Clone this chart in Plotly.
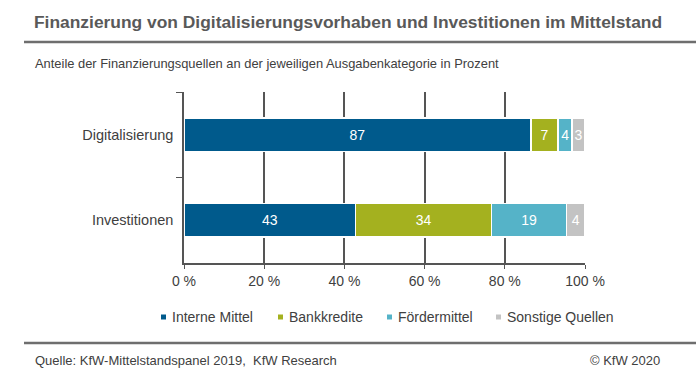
import plotly.graph_objects as go

categories = ["Digitalisierung", "Investitionen"]
series_names = ["Interne Mittel", "Bankkredite", "Fördermittel", "Sonstige Quellen"]
# shares (percent)
interne = [86.5, 42.8]
bank = [6.8, 33.9]
foerder = [3.5, 18.7]
sonstige = [3.2, 4.6]
# printed value labels
interne_lbl = [87, 43]
bank_lbl = [7, 34]
foerder_lbl = [4, 19]
sonstige_lbl = [3, 4]
x_ticks = [0, 20, 40, 60, 80, 100]

colors = ["#005A8C", "#A4B11F", "#55B3C8", "#C3C3C3"]
values = [interne, bank, foerder, sonstige]
labels = [interne_lbl, bank_lbl, foerder_lbl, sonstige_lbl]

FONT = "Liberation Sans, Arial, sans-serif"
W, H = 696, 392
L, R, T, B = 184, 585, 92, 263

def px(x):
    return (x - L) / (R - L)

def py(y):
    return (B - y) / (B - T)

fig = go.Figure()
for name, vals, lbl, col in zip(series_names, values, labels, colors):
    fig.add_trace(go.Bar(
        y=categories, x=vals, name=name, orientation="h",
        marker=dict(color=col, line=dict(color="white", width=1.5)),
        text=lbl, texttemplate="%{text}", textposition="inside",
        insidetextanchor="middle", cliponaxis=False,
        textfont=dict(color="white", size=14, family=FONT),
        hoverinfo="skip", showlegend=False,
    ))

fig.update_layout(
    barmode="stack",
    width=W, height=H,
    margin=dict(l=L, r=W - R, t=T, b=H - B, autoexpand=False),
    paper_bgcolor="white", plot_bgcolor="white",
    bargap=0.61,
    font=dict(family=FONT, color="#404040"),
    uniformtext=dict(minsize=14, mode="show"),
    showlegend=False,
)

fig.update_xaxes(
    range=[0, 100], tickvals=x_ticks, ticktext=[f"{v} %" for v in x_ticks],
    showgrid=True, gridcolor="#555555", gridwidth=1.5,
    showline=True, linecolor="#555555", linewidth=1.5,
    ticks="outside", ticklen=4, tickcolor="#555555",
    tickfont=dict(size=14, color="#404040"),
    zeroline=False, fixedrange=True,
)
fig.update_yaxes(
    type="category", autorange="reversed",
    showline=True, linecolor="#555555", linewidth=1.5,
    ticks="outside", ticklen=6, tickcolor="#555555", tickson="boundaries",
    ticklabelstandoff=6,
    tickfont=dict(size=14.5, color="#404040"),
    showgrid=False, fixedrange=True,
)

# manual legend
legend_sq_x = [161, 278, 387, 496]
for name, col, sx in zip(series_names, colors, legend_sq_x):
    fig.add_shape(type="rect", xref="paper", yref="paper",
                  x0=px(sx), x1=px(sx + 5), y0=py(319.5), y1=py(314.5),
                  fillcolor=col, line=dict(width=0))
    fig.add_annotation(text=name, xref="paper", yref="paper", x=px(sx + 9), y=py(317),
                       xanchor="left", yanchor="middle", showarrow=False,
                       font=dict(size=14, color="#404040", family=FONT))

# Title, subtitle, rules, footnotes
fig.add_annotation(text="<b>Finanzierung von Digitalisierungsvorhaben und Investitionen im Mittelstand</b>",
                   xref="paper", yref="paper", x=px(32), y=py(22), xanchor="left", yanchor="middle",
                   showarrow=False, font=dict(size=17.4, color="#595959", family=FONT))
fig.add_annotation(text="Anteile der Finanzierungsquellen an der jeweiligen Ausgabenkategorie in Prozent",
                   xref="paper", yref="paper", x=px(33), y=py(63), xanchor="left", yanchor="middle",
                   showarrow=False, font=dict(size=12.9, color="#404040", family=FONT))
fig.add_annotation(text="Quelle: KfW-Mittelstandspanel 2019,  KfW Research",
                   xref="paper", yref="paper", x=px(33), y=py(360), xanchor="left", yanchor="middle",
                   showarrow=False, font=dict(size=13, color="#404040", family=FONT))
fig.add_annotation(text="© KfW 2020",
                   xref="paper", yref="paper", x=px(662), y=py(360), xanchor="right", yanchor="middle",
                   showarrow=False, font=dict(size=13, color="#404040", family=FONT))
for yy in (42, 343):
    fig.add_shape(type="line", xref="paper", yref="paper", x0=px(24), x1=px(696), y0=py(yy), y1=py(yy),
                  line=dict(color="#6e6e6e", width=2.5))

fig.write_html("out.html", config={"displayModeBar": False},
               post_script="document.body.style.margin='0';")
